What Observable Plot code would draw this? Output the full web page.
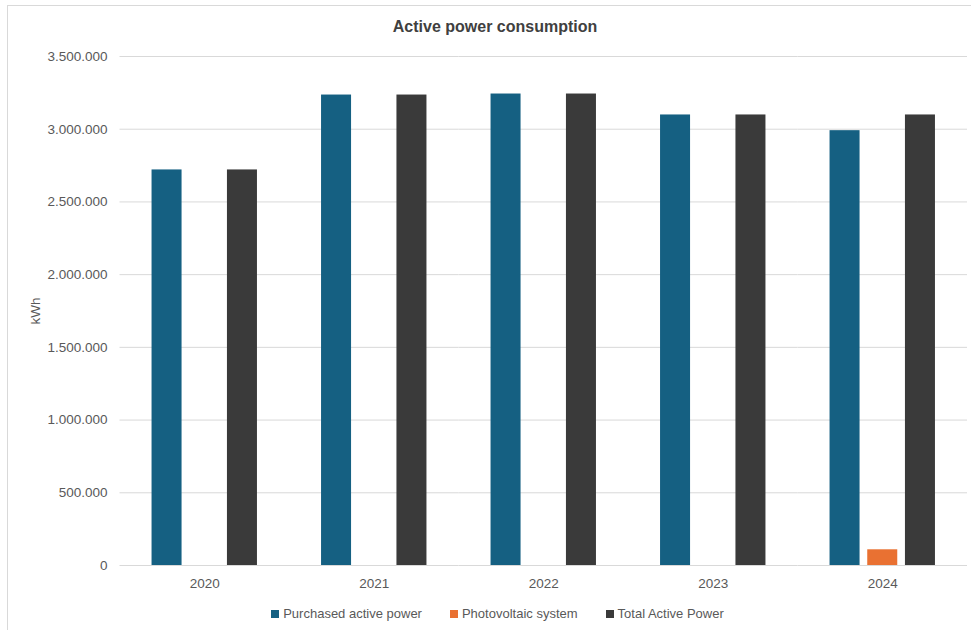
<!DOCTYPE html>
<html>
<head>
<meta charset="utf-8">
<script src="https://cdn.jsdelivr.net/npm/d3@7"></script>
<script src="https://cdn.jsdelivr.net/npm/@observablehq/plot@0.6"></script>
<style>
  html, body { margin: 0; padding: 0; }
  body { width: 971px; height: 630px; overflow: hidden; position: relative; background: #fff; font-family: "Liberation Sans", Arial, sans-serif; }
  #frame { position: absolute; left: 7px; top: 5px; width: 1000px; height: 700px; border: 1px solid #d9d9d9; box-sizing: border-box; }
  #title { position: absolute; left: 7px; top: 17px; width: 976px; height: 20px; line-height: 20px; text-align: center; font-size: 16px; font-weight: bold; color: #404040; }
  #plot { position: absolute; left: 0; top: 40px; }
  #legend { position: absolute; left: 9.5px; top: 606px; width: 976px; display: flex; justify-content: center; }
  .lg-swatches { justify-content: center; margin: 0 !important; min-height: 0 !important; }
  .lg-swatch { margin-right: 28px !important; font-size: 13px; color: #595959; }
  .lg-swatch:last-child { margin-right: 0 !important; }
  .lg-swatch svg { margin-right: 4px !important; }
</style>
</head>
<body>
<div id="frame"></div>
<div id="title">Active power consumption</div>
<div id="plot"></div>
<div id="legend"></div>
<script>
const years = ["2020", "2021", "2022", "2023", "2024"];
const series = ["Purchased active power", "Photovoltaic system", "Total Active Power"];
const purchased = [2720000, 3235000, 3242000, 3098000, 2990000];
const photovoltaic = [null, null, null, null, 108000];
const total = [2720000, 3235000, 3242000, 3098000, 3098000];
const yTicks = [0, 500000, 1000000, 1500000, 2000000, 2500000, 3000000, 3500000];
const colors = ["#156082", "#E97132", "#3A3A3A"];

// one row per bar; years without a photovoltaic value get no bar
const rows = years.flatMap((year, i) =>
  [purchased[i], photovoltaic[i], total[i]]
    .map((value, k) => ({year, series: series[k], value}))
    .filter(d => d.value != null)
);

const fmt = d3.formatLocale({decimal: ",", thousands: ".", grouping: [3], currency: ["", ""]}).format(",d");

const chart = Plot.plot({
  width: 971,
  height: 560,
  marginTop: 16,
  marginBottom: 35,
  marginLeft: 119.5,
  marginRight: 4,
  style: {fontFamily: "Liberation Sans, Arial, sans-serif", fontSize: "13.5px", color: "#595959", background: "transparent"},
  fx: {domain: years, padding: 0, round: false, label: null, axis: "bottom", tickSize: 0, tickPadding: 13},
  x: {domain: series, paddingInner: 0.204, paddingOuter: 0.85, round: false, axis: null},
  y: {domain: [0, 3500000], ticks: yTicks, tickFormat: fmt, tickSize: 0, tickPadding: 12.5,
      label: "kWh", labelArrow: false, labelAnchor: "center", labelOffset: 90},
  color: {domain: series, range: colors},
  marks: [
    Plot.ruleY(yTicks, {stroke: "#d9d9d9", strokeWidth: 1}),
    Plot.barY(rows, {fx: "year", x: "series", y: "value", fill: "series"})
  ]
});
document.getElementById("plot").appendChild(chart);

const legend = Plot.legend({
  color: {domain: series, range: colors},
  legend: "swatches",
  swatchSize: 8,
  className: "lg",
  style: {fontFamily: "Liberation Sans, Arial, sans-serif", fontSize: "13px", color: "#595959"}
});
document.getElementById("legend").appendChild(legend);
</script>
</body>
</html>
